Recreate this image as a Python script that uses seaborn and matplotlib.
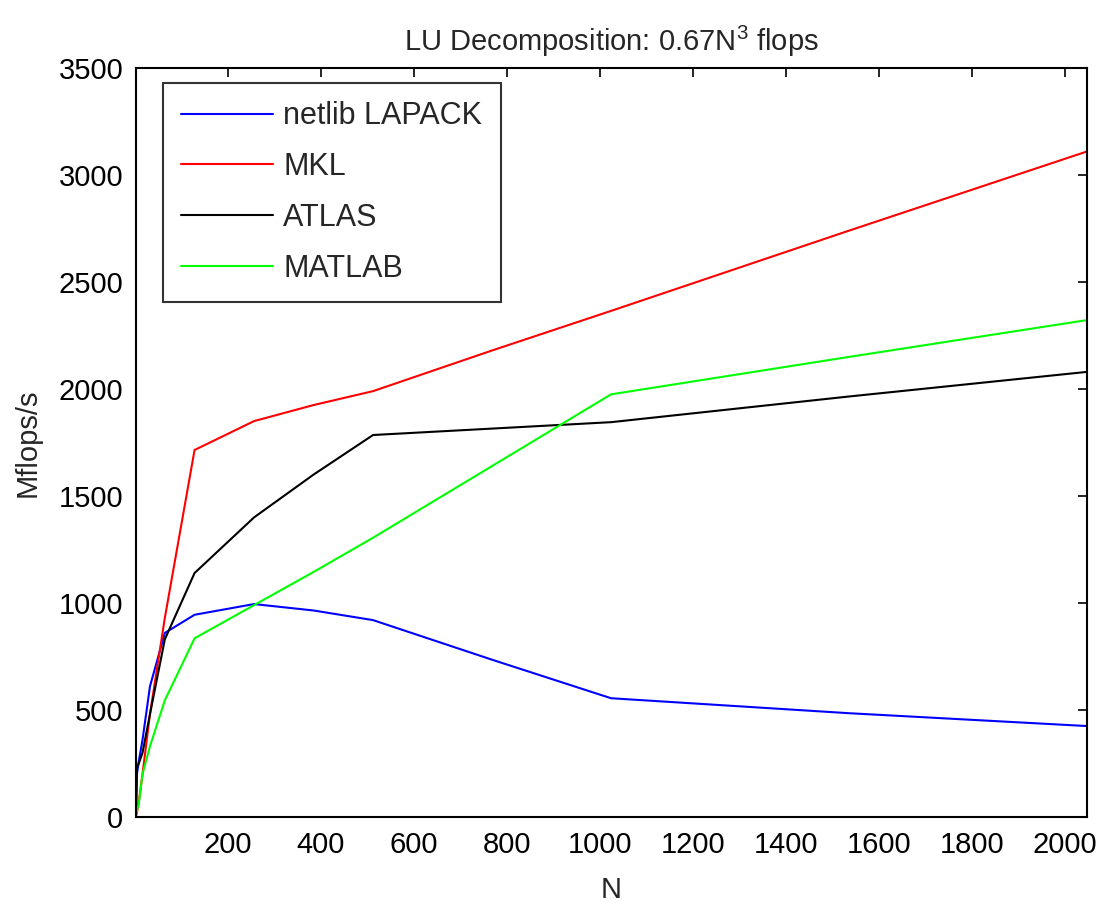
#!/usr/bin/env python3

import pandas as pd
import matplotlib.pyplot as plt
import seaborn as sns

N = [2, 4, 8, 16, 32, 64, 128, 256, 384, 512, 768, 1024, 1536, 2048]
netlib = [20, 200, 260, 360, 610, 860, 945, 995, 965, 920, 735, 555, 485, 425]
mkl = [5, 20, 70, 200, 480, 930, 1715, 1850, 1925, 1990, 2180, 2365, 2740, 3110]
atlas = [10, 230, 250, 300, 480, 830, 1140, 1400, 1600, 1785, 1815, 1845, 1965, 2080]
matlab = [5, 30, 60, 200, 330, 545, 835, 990, 1145, 1305, 1640, 1975, 2150, 2322]

series = ["netlib LAPACK", "MKL", "ATLAS", "MATLAB"]
cores = ["#0000ff", "#ff0000", "#000000", "#00ff00"]
yticks = [0, 500, 1000, 1500, 2000, 2500, 3000, 3500]
xticks = [200, 400, 600, 800, 1000, 1200, 1400, 1600, 1800, 2000]

sns.set_style("white")
plt.rcParams['font.family'] = ['Liberation Sans', 'DejaVu Sans']
plt.rcParams['mathtext.fontset'] = 'custom'
plt.rcParams['mathtext.rm'] = 'Liberation Sans'

df = pd.DataFrame({
    "N": N * 4,
    "Mflops": netlib + mkl + atlas + matlab,
    "lib": sum([[s] * len(N) for s in series], []),
})

fig = plt.figure(figsize=(10.99, 9.07), dpi=100)
ax = fig.add_axes([136 / 1099, 1 - 817 / 907, (1087 - 136) / 1099, (817 - 68) / 907])

sns.lineplot(data=df, x="N", y="Mflops", hue="lib", hue_order=series,
             palette=cores, linewidth=1.5, ax=ax, legend=True)

ax.set_xlim(2, 2048)
ax.set_ylim(0, 3500)
ax.set_xticks(xticks)
ax.set_yticks(yticks)
ax.tick_params(direction='in', length=6.5, width=1.2, labelsize=21,
               top=True, right=True, colors='black')
ax.tick_params(axis='x', pad=10)
ax.tick_params(axis='y', pad=9)
for sp in ax.spines.values():
    sp.set_color('black')
    sp.set_linewidth(1.5)

ax.set_xlabel("N", fontsize=21, labelpad=12)
ax.set_ylabel("Mflops/s", fontsize=21, labelpad=12)
ax.set_title("LU Decomposition: 0.67N$^3$ flops", fontsize=21, pad=12)

leg = ax.legend(loc='upper left', bbox_to_anchor=(0.028, 0.98), fontsize=22,
                frameon=True, fancybox=False, handlelength=3.0,
                labelspacing=0.68, borderpad=0.6, handletextpad=0.35,
                borderaxespad=0)
leg.get_frame().set_edgecolor('black')
leg.get_frame().set_linewidth(1.5)

plt.savefig('out.png', dpi=100)
